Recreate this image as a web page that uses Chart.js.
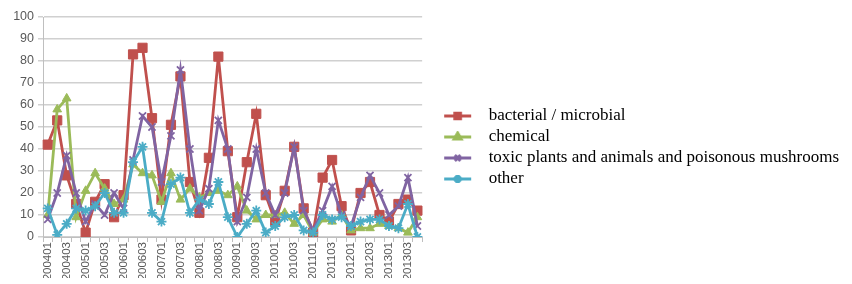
<!DOCTYPE html>
<html><head><meta charset="utf-8">
<script src="https://cdn.jsdelivr.net/npm/chart.js@4/dist/chart.umd.min.js"></script>
<style>html,body{margin:0;padding:0;background:#fff;}#wrap{width:852px;height:284px;}</style>
</head><body><div id="wrap"><canvas id="c" width="852" height="284"></canvas></div>
<script>
const categories = ['200401','200402','200403','200404','200501','200502','200503','200504',
  '200601','200602','200603','200604','200701','200702','200703','200704',
  '200801','200802','200803','200804','200901','200902','200903','200904',
  '201001','201002','201003','201004','201101','201102','201103','201104',
  '201201','201202','201203','201204','201301','201302','201303','201304'];
const seriesNames = ['bacterial / microbial','chemical','toxic plants and animals and poisonous mushrooms','other'];
const bacterial = [42,53,28,15,2,16,24,9,19,83,86,54,17,51,73,25,11,36,82,39,9,34,56,19,7,21,41,13,2,27,35,14,3,20,25,10,7,15,17,12];
const chemical  = [10,58,63,9,21,29,22,15,17,33,29,28,16,29,17,22,18,20,21,19,23,12,8,10,10,11,6,10,2,8,7,10,3,4,4,6,5,4,2,9];
const toxic     = [8,20,37,20,7,15,10,20,13,35,55,50,25,46,76,40,12,22,53,40,7,18,40,20,10,20,41,12,3,12,23,10,5,18,28,20,10,14,27,5];
const other     = [13,1,6,13,12,14,20,11,11,34,41,11,7,24,27,11,17,15,25,9,0,6,12,2,5,9,10,3,2,10,8,9,5,7,8,8,5,4,15,0];
const yTicks = [0,10,20,30,40,50,60,70,80,90,100];

const colors = ['#C0504D','#9BBB59','#8064A2','#4BACC6'];
const styles = ['rect','triangle','crossRot','star'];
const values = [bacterial, chemical, toxic, other];

function makeIcon(color, style){
  const W = 54, H = 12;
  const cv = document.createElement('canvas'); cv.width = W; cv.height = H;
  const g = cv.getContext('2d');
  g.strokeStyle = color; g.fillStyle = color; g.lineWidth = 3;
  g.beginPath(); g.moveTo(18, 6); g.lineTo(45, 6); g.stroke();
  Chart.helpers.drawPoint(g, {pointStyle: style, radius: 4, borderWidth: 1.5}, 31.5, 6);
  if (style === 'rect' || style === 'triangle') g.fill();
  return cv;
}
const icons = colors.map((c,i)=>makeIcon(c, styles[i]));

const datasets = seriesNames.map((name,i)=>({
  label: name,
  data: values[i],
  borderColor: colors[i],
  backgroundColor: colors[i],
  borderWidth: 2.8,
  pointStyle: styles[i],
  pointRadius: i===0 ? 6.5 : 5,
  pointBorderWidth: i>=2 ? 1.8 : 1,
  pointBackgroundColor: colors[i],
  pointBorderColor: colors[i],
  tension: 0,
  order: 3 - i
}));

const legendWidthFix = {
  id: 'legendWidthFix',
  beforeLayout(chart){
    const lg = chart.legend;
    if (lg && !lg._wideFix){
      const origUpdate = lg.update;
      lg.update = function(mw, mh, m){ return origUpdate.call(this, 600, mh, m); };
      lg._wideFix = true;
    }
  }
};

new Chart(document.getElementById('c'), {
  type: 'line',
  data: { labels: categories, datasets },
  plugins: [legendWidthFix],
  options: {
    responsive: false, animation: false, devicePixelRatio: 1,
    layout: { padding: { left: 9, top: 17, right: 3, bottom: 6 } },
    plugins: {
      tooltip: { enabled: false },
      legend: {
        position: 'right', align: 'center',
        labels: {
          usePointStyle: true, pointStyleWidth: 54, padding: 4,
          color: '#000',
          font: { family: 'Liberation Serif', size: 17 },
          generateLabels: (chart) => chart.data.datasets.map((ds,i)=>({
            text: ds.label, fillStyle: ds.borderColor, strokeStyle: ds.borderColor,
            lineWidth: 0, pointStyle: icons[i], hidden: false, datasetIndex: i, fontColor: '#000'
          }))
        }
      }
    },
    scales: {
      x: {
        offset: true,
        afterFit: (s) => { s.height = 41; },
        grid: { display: true, drawOnChartArea: false, offset: true, tickLength: 5, color: '#bfbfbf' },
        border: { color: '#bfbfbf', width: 1 },
        ticks: {
          autoSkip: false, maxRotation: 90, minRotation: 90, padding: 0,
          color: '#595959', font: { family: 'Liberation Sans', size: 11.5 },
          callback: function(v, idx){ return idx % 2 === 0 ? categories[idx] : ''; }
        }
      },
      y: {
        min: 0, max: 100,
        afterFit: (s) => { s.width = 34; },
        afterBuildTicks: (s) => { s.ticks = yTicks.map(v=>({value:v})); },
        grid: { color: '#d0d0d0', lineWidth: 1.5, tickLength: 5 },
        border: { color: '#bfbfbf', width: 1 },
        ticks: { color: '#595959', padding: 4, font: { family: 'Liberation Sans', size: 12.5 } }
      }
    }
  }
});
</script></body></html>
